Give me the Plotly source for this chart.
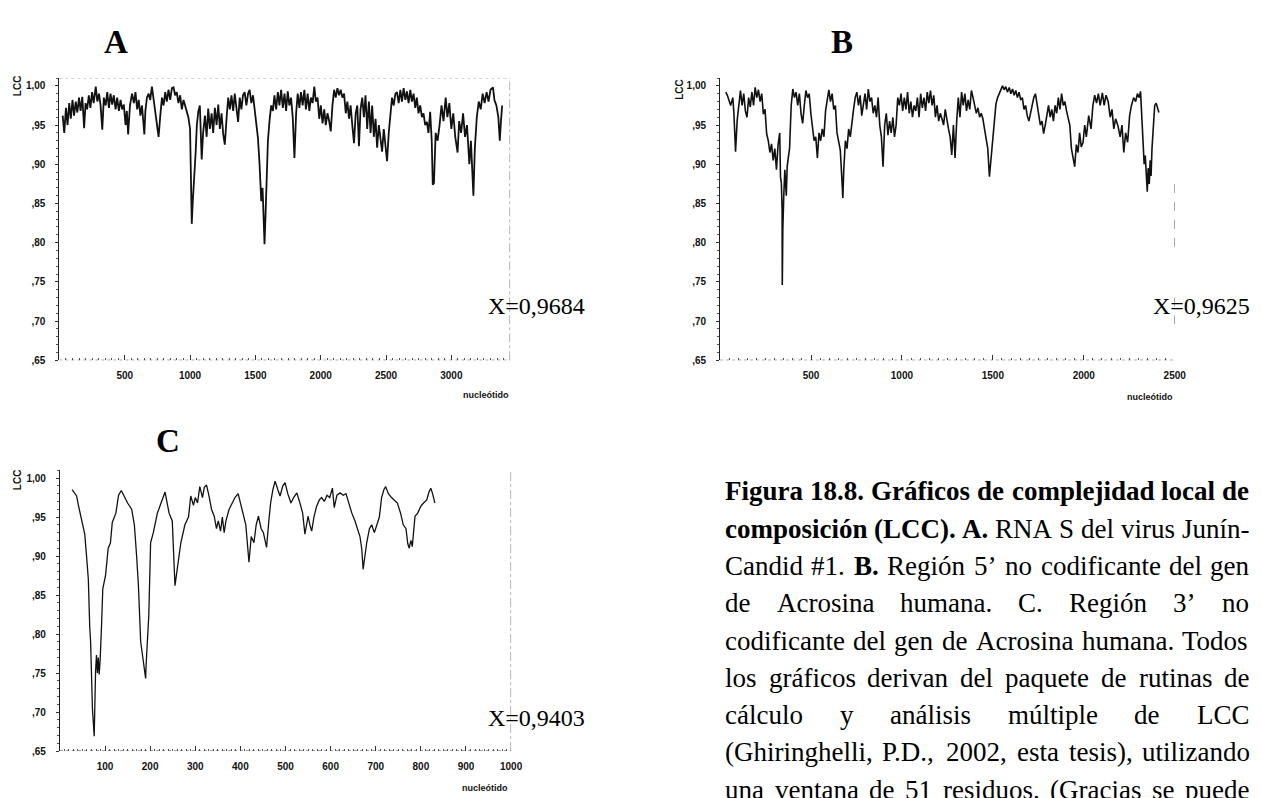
import plotly.graph_objects as go

W, H = 1262, 798

# ---------------- data ----------------
A_NT = [25,37,50,62,75,87,100,112,125,137,
        150,162,175,189,200,212,225,237,250,262,
        278,290,303,315,328,340,354,366,379,391,
        404,416,430,442,455,468,480,493,506,516,
        526,540,556,570,582,595,607,620,632,650,
        658,670,683,695,708,720,734,746,759,772,
        785,797,810,822,835,848,861,873,886,898,
        911,924,937,950,962,975,987,1000,1005,1013,
        1020,1030,1038,1043,1052,1063,1075,1089,1100,1114,
        1127,1139,1152,1165,1177,1190,1203,1216,1228,1241,
        1254,1266,1280,1292,1305,1317,1330,1342,1355,1368,
        1380,1393,1405,1418,1431,1444,1456,1469,1482,1494,
        1507,1520,1532,1545,1555,1562,1570,1578,1587,1596,
        1608,1621,1634,1646,1659,1672,1684,1697,1710,1723,
        1735,1748,1760,1773,1786,1799,1812,1824,1837,1849,
        1862,1875,1887,1900,1913,1925,1938,1951,1963,1976,
        1989,2001,2014,2027,2039,2052,2065,2077,2090,2103,
        2115,2128,2141,2153,2166,2179,2192,2204,2217,2229,
        2242,2255,2268,2280,2293,2305,2318,2331,2343,2356,
        2369,2382,2394,2407,2420,2432,2445,2458,2470,2483,
        2495,2508,2521,2534,2546,2559,2572,2584,2597,2610,
        2622,2635,2648,2660,2673,2686,2698,2711,2724,2736,
        2749,2762,2775,2787,2800,2813,2825,2838,2850,2858,
        2867,2880,2895,2910,2925,2940,2957,2970,2985,3000,
        3015,3030,3048,3060,3075,3090,3105,3120,3138,3150,
        3160,3169,3180,3195,3210,3225,3240,3255,3270,3285,
        3300,3319,3330,3345,3360,3371,3380,3389]
A_LCC = [.962,.940,.972,.950,.978,.958,.982,.962,.980,.966,
         .985,.968,.986,.946,.978,.970,.988,.972,.992,.978,
         .999,.980,.990,.975,.944,.985,.975,.992,.972,.990,
         .976,.988,.970,.985,.968,.982,.970,.976,.950,.968,
         .938,.975,.990,.978,.992,.970,.982,.962,.975,.938,
         .968,.985,.990,.982,.999,.985,.965,.955,.935,.962,
         .985,.975,.992,.980,.995,.982,.997,.998,.988,.992,
         .978,.988,.970,.982,.975,.968,.960,.945,.912,.824,
         .850,.875,.895,.916,.950,.967,.975,.906,.940,.962,
         .935,.971,.945,.965,.940,.972,.950,.976,.945,.965,
         .938,.925,.960,.985,.970,.988,.968,.990,.972,.954,
         .985,.970,.988,.992,.975,.990,.995,.978,.988,.970,
         .955,.933,.900,.853,.870,.830,.798,.836,.883,.930,
         .955,.975,.968,.988,.970,.992,.975,.995,.972,.990,
         .968,.993,.975,.985,.960,.908,.965,.990,.972,.992,
         .975,.995,.970,.990,.968,.985,.978,.999,.980,.985,
         .958,.975,.952,.970,.950,.965,.955,.942,.975,.995,
         .985,.997,.988,.995,.985,.990,.965,.980,.958,.975,
         .950,.927,.965,.975,.923,.970,.985,.960,.988,.945,
         .980,.940,.975,.935,.958,.921,.950,.930,.916,.945,
         .925,.904,.940,.970,.985,.975,.990,.992,.978,.995,
         .980,.997,.982,.993,.978,.995,.980,.990,.972,.985,
         .965,.975,.960,.965,.950,.954,.940,.967,.930,.874,
         .876,.940,.930,.950,.975,.955,.985,.960,.978,.945,
         .965,.935,.915,.955,.940,.965,.935,.950,.900,.930,
         .880,.860,.920,.960,.980,.970,.990,.978,.992,.980,
         .995,.998,.982,.975,.960,.930,.955,.975]

B_NT = [31,40,58,70,76,85,94,103,112,121,
        130,139,148,157,166,175,184,193,202,211,
        220,229,238,247,256,265,274,283,292,301,
        310,319,328,332,337,341,342,345,350,356,
        364,369,376,382,391,400,409,418,427,436,
        445,454,463,472,481,490,499,508,517,526,
        535,544,553,562,571,580,589,598,607,616,
        625,634,643,652,661,670,675,680,689,698,
        707,716,725,734,743,752,761,770,779,788,
        797,806,815,824,833,842,851,860,869,878,
        887,896,905,914,923,932,941,950,959,968,
        977,986,995,1004,1013,1022,1031,1040,1049,1058,
        1067,1076,1085,1094,1103,1112,1121,1130,1139,1148,
        1157,1166,1175,1184,1193,1202,1211,1220,1229,1238,
        1247,1256,1265,1274,1283,1292,1301,1310,1319,1328,
        1337,1346,1355,1364,1373,1382,1391,1400,1409,1418,
        1427,1436,1445,1454,1463,1472,1481,1490,1499,1508,
        1517,1526,1535,1544,1553,1562,1571,1580,1590,1599,
        1608,1617,1626,1635,1644,1653,1662,1671,1680,1689,
        1698,1707,1716,1725,1734,1743,1752,1761,1770,1779,
        1788,1797,1806,1815,1824,1833,1842,1851,1860,1869,
        1878,1887,1896,1905,1914,1923,1932,1941,1950,1959,
        1968,1977,1986,1996,2005,2014,2027,2040,2050,2060,
        2070,2080,2090,2102,2112,2122,2134,2145,2155,2165,
        2175,2188,2200,2210,2220,2230,2241,2252,2262,2274,
        2285,2295,2305,2312,2320,2327,2332,2338,2343,2349,
        2354,2360,2365,2370,2375,2381,2390,2398,2405,2413]
B_LCC = [.992,.988,.975,.985,.965,.916,.956,.975,.994,.975,
         .990,.968,.960,.985,.973,.992,.975,.998,.985,.995,
         .980,.990,.964,.970,.939,.930,.915,.926,.905,.920,
         .893,.925,.940,.884,.876,.842,.746,.817,.859,.893,
         .860,.897,.910,.920,.975,.996,.985,.992,.975,.990,
         .965,.952,.975,.994,.985,.990,.965,.950,.930,.935,
         .908,.940,.930,.945,.935,.968,.985,.995,.980,.990,
         .970,.975,.940,.930,.918,.880,.857,.893,.930,.920,
         .945,.935,.955,.970,.985,.992,.975,.988,.962,.975,
         .990,.970,.996,.980,.985,.965,.975,.960,.985,.950,
         .935,.897,.950,.965,.937,.955,.940,.960,.935,.950,
         .985,.975,.990,.968,.985,.970,.992,.965,.980,.960,
         .975,.968,.985,.960,.990,.972,.985,.968,.992,.978,
         .994,.975,.988,.960,.975,.955,.965,.958,.950,.970,
         .955,.945,.935,.912,.950,.908,.955,.985,.960,.992,
         .975,.990,.968,.982,.970,.994,.985,.975,.965,.972,
         .960,.965,.958,.945,.930,.920,.884,.905,.935,.955,
         .977,.985,.990,.995,1.000,.995,.999,.992,.998,.990,
         .996,.988,.994,.985,.992,.982,.985,.970,.975,.962,
         .955,.965,.975,.985,.990,.975,.960,.950,.955,.939,
         .950,.965,.975,.960,.970,.955,.975,.965,.985,.970,
         .990,.975,.980,.968,.960,.950,.920,.910,.897,.925,
         .915,.940,.922,.928,.950,.935,.962,.945,.975,.988,
         .978,.990,.975,.991,.975,.988,.980,.960,.970,.945,
         .958,.949,.935,.950,.915,.940,.928,.962,.975,.985,
         .980,.990,.985,.993,.960,.930,.900,.911,.880,.865,
         .895,.875,.905,.885,.920,.945,.975,.978,.972,.966]

C_NT = [27,33,37,41,46,50,55,59,63,66,
        68,72,76,79,81,83,85,87,89,92,
        95,101,107,112,116,124,130,136,142,150,
        159,165,170,172,174,179,185,190,191,197,
        201,207,216,225,233,242,249,255,261,268,
        277,285,290,296,300,305,310,316,320,325,
        330,336,342,347,351,356,360,364,368,375,
        382,388,395,403,412,419,424,430,435,440,
        446,451,458,463,467,472,477,483,488,494,
        499,505,512,518,525,531,538,543,547,550,
        554,558,563,569,575,580,586,592,598,604,
        608,614,621,628,634,640,647,654,660,665,
        669,672,676,680,686,691,697,702,708,713,
        718,722,728,735,741,748,755,761,767,771,
        774,778,781,787,793,800,806,813,818,822,
        826,831]
C_LCC = [.985,.980,.977,.965,.950,.938,.928,.900,.870,.810,
         .790,.705,.669,.752,.773,.750,.770,.748,.765,.807,
         .858,.875,.910,.917,.943,.955,.978,.984,.977,.968,
         .960,.940,.900,.870,.862,.790,.765,.743,.760,.824,
         .917,.930,.955,.968,.982,.955,.945,.862,.890,.917,
         .940,.950,.977,.965,.975,.968,.989,.975,.988,.991,
         .978,.960,.951,.935,.945,.932,.950,.930,.945,.960,
         .968,.975,.980,.960,.940,.892,.925,.917,.940,.951,
         .935,.930,.911,.945,.968,.985,.996,.985,.977,.990,
         .994,.980,.968,.975,.981,.970,.955,.928,.945,.951,
         .940,.932,.950,.964,.972,.975,.970,.978,.975,.987,
         .962,.978,.981,.978,.980,.968,.955,.945,.934,.925,
         .909,.883,.900,.917,.935,.940,.930,.938,.950,.975,
         .985,.989,.980,.975,.972,.968,.955,.940,.935,.916,
         .910,.920,.912,.951,.955,.964,.968,.972,.982,.987,
         .980,.968]

Y_TICKVALS = [0.65, 0.70, 0.75, 0.80, 0.85, 0.90, 0.95, 1.00]
Y_TICKTEXT = [",65", ",70", ",75", ",80", ",85", ",90", ",95", "1,00"]
A_XTICKS = [500, 1000, 1500, 2000, 2500, 3000]
B_XTICKS = [500, 1000, 1500, 2000, 2500]
C_XTICKS = [100, 200, 300, 400, 500, 600, 700, 800, 900, 1000]
X_MEANS = ["X=0,9684", "X=0,9625", "X=0,9403"]
PANEL_LABELS = ["A", "B", "C"]

CAPTION = [
    [("Figura", 1), ("18.8.", 1), ("Gráficos", 1), ("de", 1), ("complejidad", 1), ("local", 1), ("de", 1)],
    [("composición", 1), ("(LCC).", 1), ("A.", 1), ("RNA", 0), ("S", 0), ("del", 0), ("virus", 0), ("Junín-", 0)],
    [("Candid", 0), ("#1.", 0), ("B.", 1), ("Región", 0), ("5’", 0), ("no", 0), ("codificante", 0), ("del", 0), ("gen", 0)],
    [("de", 0), ("Acrosina", 0), ("humana.", 0), ("C.", 0), ("Región", 0), ("3’", 0), ("no", 0)],
    [("codificante", 0), ("del", 0), ("gen", 0), ("de", 0), ("Acrosina", 0), ("humana.", 0), ("Todos", 0)],
    [("los", 0), ("gráficos", 0), ("derivan", 0), ("del", 0), ("paquete", 0), ("de", 0), ("rutinas", 0), ("de", 0)],
    [("cálculo", 0), ("y", 0), ("análisis", 0), ("múltiple", 0), ("de", 0), ("LCC", 0)],
    [("(Ghiringhelli,", 0), ("P.D.,", 0), ("2002,", 0), ("esta", 0), ("tesis),", 0), ("utilizando", 0)],
    [("una", 0), ("ventana", 0), ("de", 0), ("51", 0), ("residuos.", 0), ("(Gracias", 0), ("se", 0), ("puede", 0)],
]

# ---------------- helpers ----------------
def px(x):
    return x / W

def py(y):
    return 1 - y / H

REG = dict(zip("abcdefghijklmnopqrstuvwxyz",
               [444,500,444,500,444,333,500,500,278,278,500,278,778,500,500,500,500,333,389,278,500,500,722,500,500,444]))
REG.update(dict(zip("ABCDEFGHIJKLMNOPQRSTUVWXYZ",
               [722,667,667,722,611,556,722,722,333,389,722,611,889,722,722,556,722,667,556,611,722,722,944,722,722,611])))
BLD = dict(zip("abcdefghijklmnopqrstuvwxyz",
               [500,556,444,556,444,333,500,556,278,333,556,278,833,556,500,556,556,444,389,333,556,500,722,500,500,444]))
BLD.update(dict(zip("ABCDEFGHIJKLMNOPQRSTUVWXYZ",
               [722,667,722,722,667,611,778,778,389,500,778,667,944,722,778,611,778,722,556,667,722,722,1000,722,722,667])))
for t in (REG, BLD):
    for d in "0123456789#":
        t[d] = 500
    t.update({".": 250, ",": 250, "(": 333, ")": 333, "-": 333, "’": 333, " ": 250})
ACC = {"á": "a", "é": "e", "í": "i", "ó": "o", "ú": "u", "ñ": "n"}

def tw(s, bold, size):
    t = BLD if bold else REG
    return sum(t.get(ACC.get(c, c), 500) for c in s) / 1000 * size

fig = go.Figure()

panels = [
    dict(nt=A_NT, v=A_LCC, xr=[0, 3450], x0=60, x1=515, yb=363, yt=78.6, ticks=A_XTICKS, minor=50, lw=1.8),
    dict(nt=B_NT, v=B_LCC, xr=[0, 2500], x0=727, x1=1186, yb=363, yt=78.6, ticks=B_XTICKS, minor=50, lw=1.6),
    dict(nt=C_NT, v=C_LCC, xr=[0, 1000], x0=60.5, x1=516, yb=756.7, yt=473.8, ticks=C_XTICKS, minor=10, lw=1.3),
]

tickfont = dict(family="Liberation Sans", size=10, color="#111", weight="bold")
layout = {}
for i, p in enumerate(panels, start=1):
    sx = "" if i == 1 else str(i)
    fig.add_trace(go.Scatter(x=p["nt"], y=p["v"], mode="lines", xaxis="x" + sx, yaxis="y" + sx,
                             line=dict(color="#111", width=p["lw"]), showlegend=False, hoverinfo="skip"))
    layout["xaxis" + sx] = dict(
        domain=[px(p["x0"]), px(p["x1"])], range=p["xr"], anchor="y" + sx,
        tickvals=p["ticks"], ticktext=[str(t) for t in p["ticks"]],
        ticks="inside", ticklen=5, tickwidth=1, tickcolor="#333",
        minor=dict(ticks="inside", ticklen=2, dtick=p["minor"], tickcolor="#555", tick0=0),
        showline=False, showgrid=False, zeroline=False, tickfont=tickfont, ticklabelstandoff=8)
    layout["yaxis" + sx] = dict(
        domain=[py(p["yb"]), py(p["yt"])], range=[0.65, 1.01], anchor="x" + sx,
        tickvals=Y_TICKVALS, ticktext=Y_TICKTEXT,
        ticks="outside", ticklen=3, tickwidth=1, tickcolor="#333",
        minor=dict(ticks="outside", ticklen=2, dtick=0.01, tick0=0.65, tickcolor="#555"),
        showline=True, linecolor="#222", linewidth=1,
        showgrid=False, zeroline=False, tickfont=tickfont, ticklabelstandoff=8)

shapes = []
for i, p in enumerate(panels, start=1):
    sx = "" if i == 1 else str(i)
    xe = p["xr"][1]
    shapes.append(dict(type="line", xref="x" + sx, yref="y" + sx, x0=0, x1=xe, y0=0.65, y1=0.65,
                       line=dict(color="#444", width=1, dash="dot")))
    if i == 2:
        for y0, y1 in [(0.875, 0.786), (0.73, 0.696)]:
            shapes.append(dict(type="line", xref="x2", yref="y2", x0=xe, x1=xe, y0=y0, y1=y1,
                               line=dict(color="#666", width=1, dash="dash")))
    else:
        shapes.append(dict(type="line", xref="x" + sx, yref="y" + sx, x0=xe, x1=xe, y0=0.65, y1=1.01,
                           line=dict(color="#666", width=1, dash="dashdot")))
shapes.append(dict(type="line", xref="x", yref="y", x0=0, x1=3450, y0=1.01, y1=1.01,
                   line=dict(color="#aaa", width=1, dash="dot")))

ann = []
serif = "Liberation Serif"
# panel letters
for lab, (x, y) in zip(PANEL_LABELS, [(117, 42), (850, 42), (170, 444)]):
    ann.append(dict(text=lab, x=px(x), y=py(y), xref="paper", yref="paper", showarrow=False,
                    xanchor="center", yanchor="middle",
                    font=dict(family=serif, size=33, color="#000", weight="bold")))
# LCC labels
for x, y in [(18, 86), (686, 90), (18, 483)]:
    ann.append(dict(text="LCC", x=px(x), y=py(y), xref="paper", yref="paper", showarrow=False,
                    textangle=-90, xanchor="center", yanchor="middle",
                    font=dict(family="Liberation Sans", size=10, color="#111", weight="bold")))
# nucleotide labels
for x, y in [(491, 398), (1161, 400), (490, 794)]:
    ann.append(dict(text="nucleótido", x=px(x), y=py(y), xref="paper", yref="paper", showarrow=False,
                    xanchor="center", yanchor="middle",
                    font=dict(family="Liberation Sans", size=9, color="#111", weight="bold")))
# mean values
for txt, (x, y) in zip(X_MEANS, [(491, 308), (1162, 308), (491, 723)]):
    ann.append(dict(text=txt, x=px(x), y=py(y), xref="paper", yref="paper", showarrow=False,
                    xanchor="left", yanchor="middle",
                    font=dict(family=serif, size=24, color="#000")))

# justified caption
CAP_SIZE = 27
CAP_L, CAP_R = 731, 1260
for li, words in enumerate(CAPTION):
    yc = 495 + li * 37.6
    widths = [tw(w, b, CAP_SIZE) for w, b in words]
    gap = (CAP_R - CAP_L - sum(widths)) / (len(words) - 1)
    x = CAP_L
    for (w, b), wd in zip(words, widths):
        ann.append(dict(text=w, x=px(x), y=py(yc), xref="paper", yref="paper", showarrow=False,
                        xanchor="left", yanchor="middle", borderpad=0,
                        font=dict(family=serif, size=CAP_SIZE, color="#000",
                                  weight="bold" if b else "normal")))
        x += wd + gap

fig.update_layout(
    width=W, height=H, margin=dict(l=0, r=0, t=0, b=0),
    paper_bgcolor="white", plot_bgcolor="white",
    shapes=shapes, annotations=ann, showlegend=False, **layout)

fig.write_html("out.html")
